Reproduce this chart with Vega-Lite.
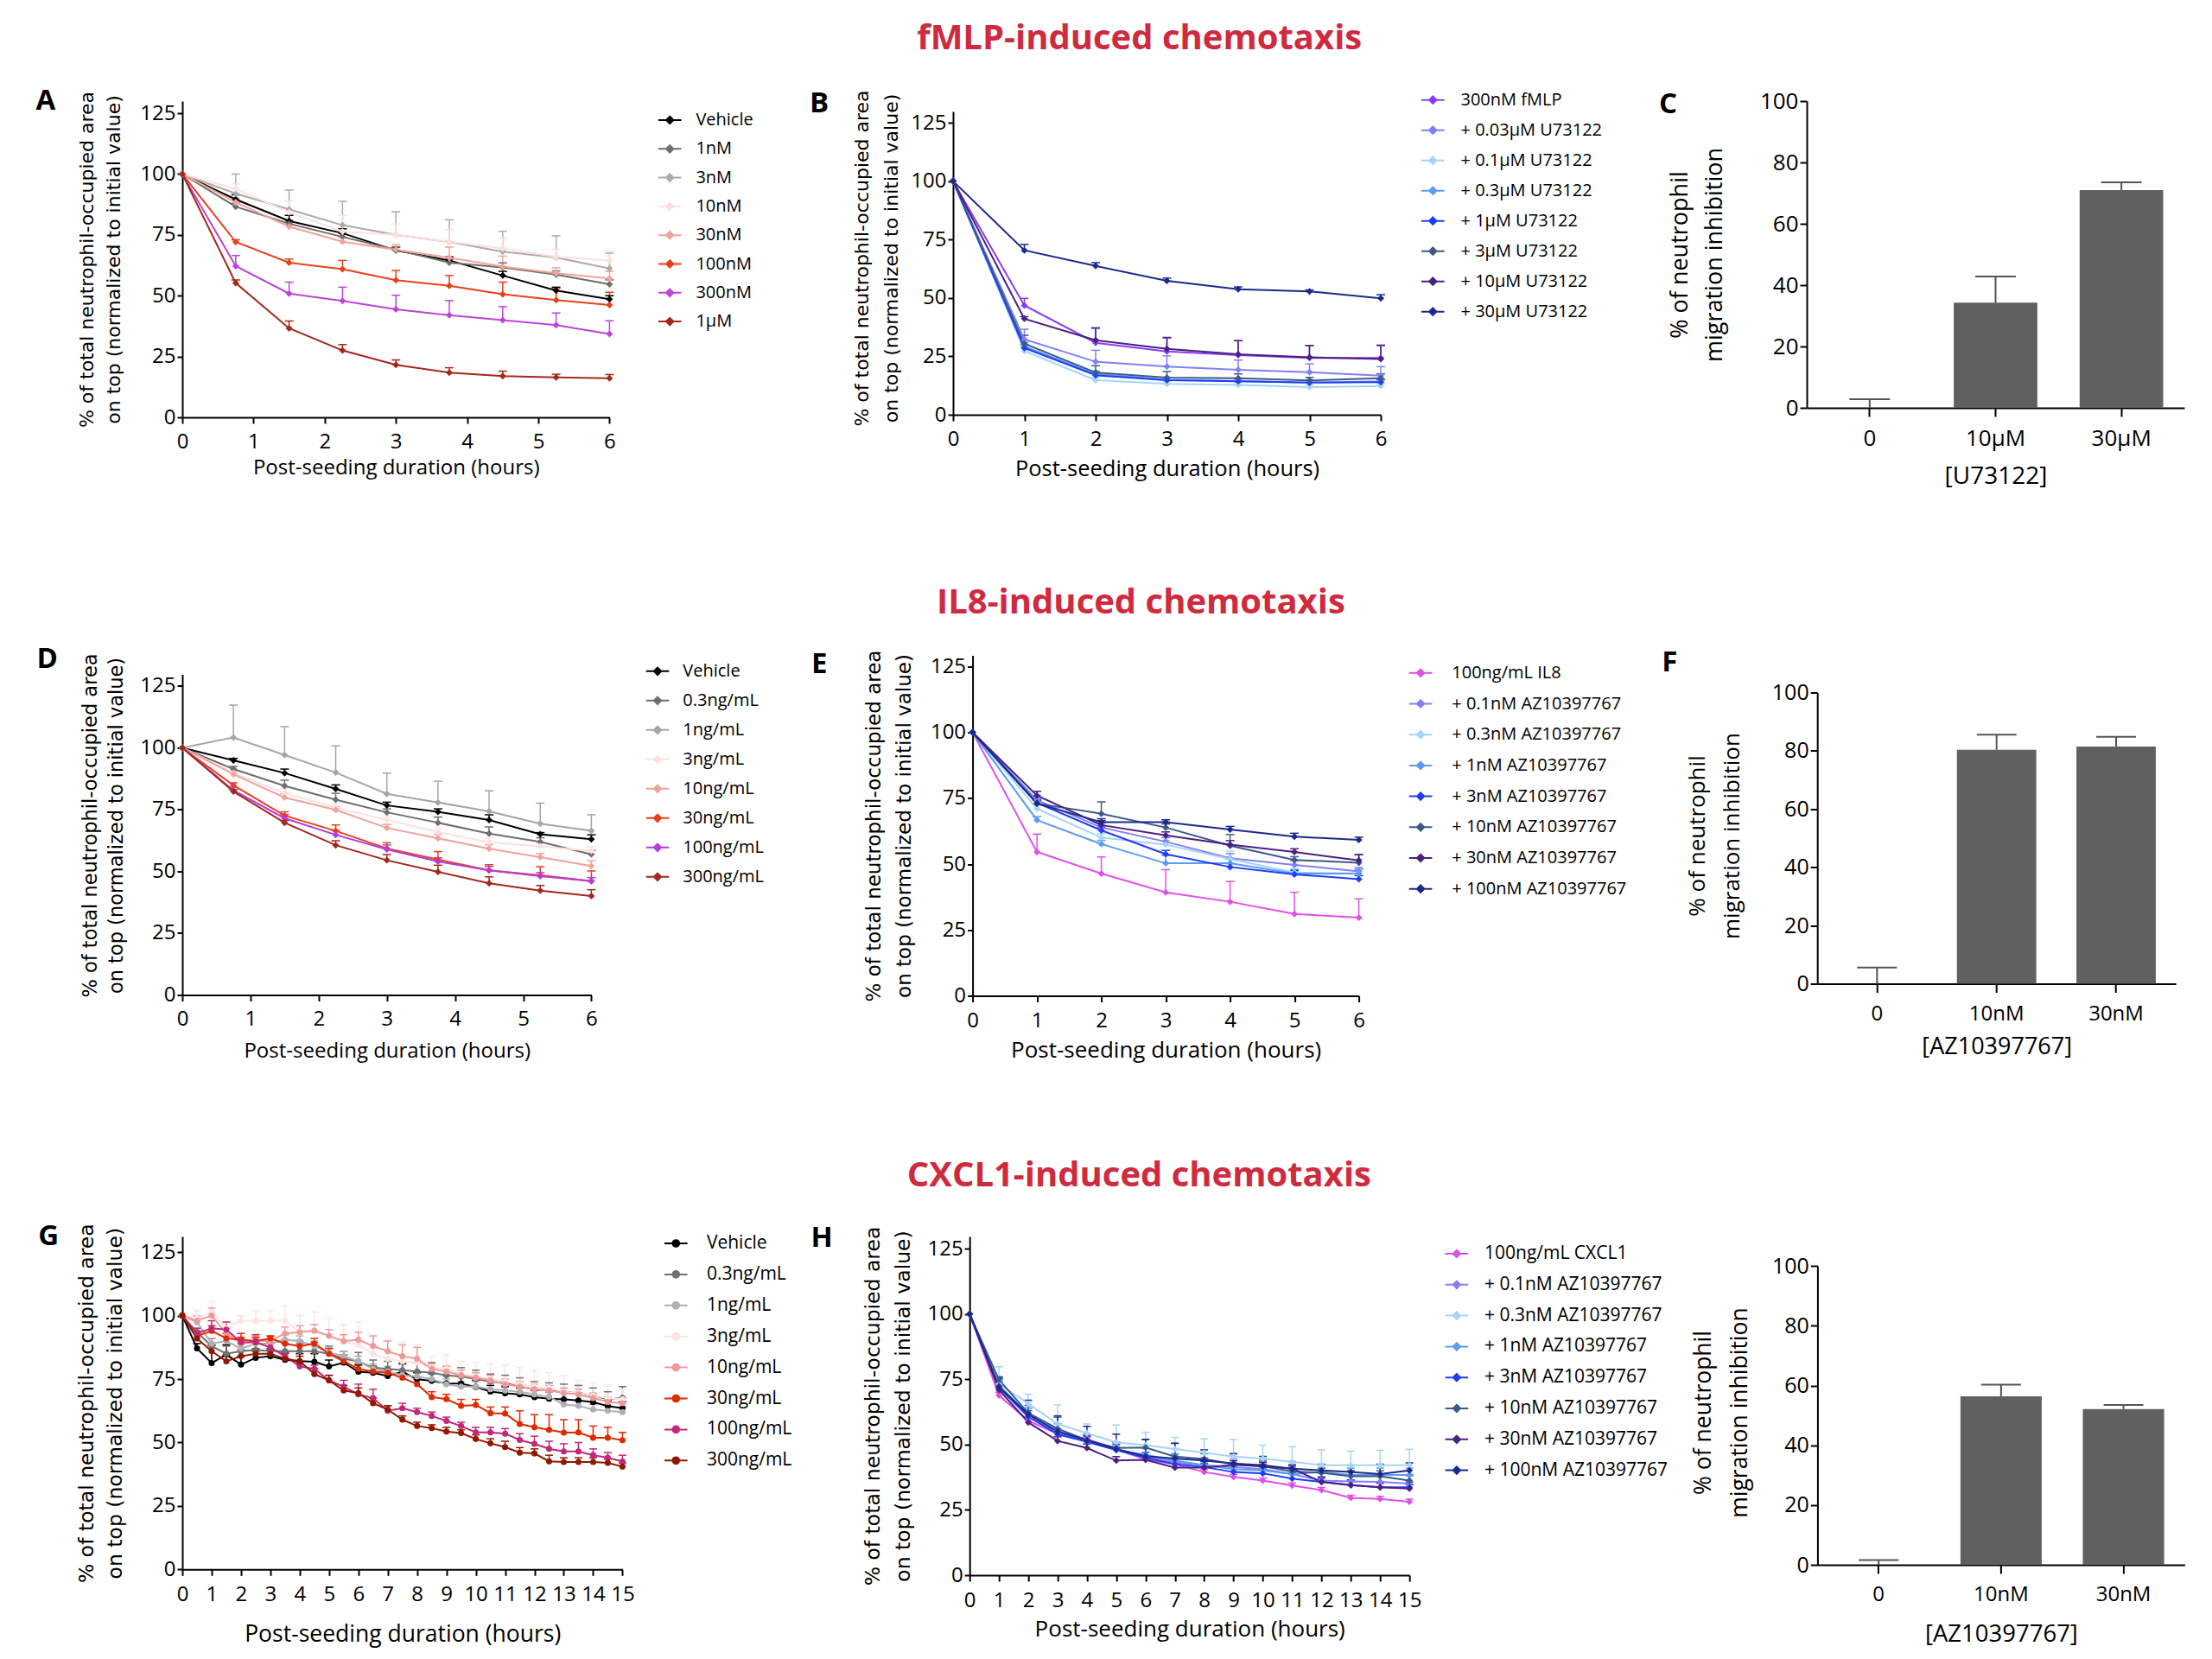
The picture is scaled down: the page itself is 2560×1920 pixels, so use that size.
{
"$schema":"https://vega.github.io/schema/vega-lite/v6.json",
"padding":{"left":41,"top":25,"right":20,"bottom":10},
"background":"white",
"config":{"view":{"stroke":null},"font":"Open Sans",
"axis":{"domainColor":"#000","domainWidth":2,"tickColor":"#000","tickWidth":2,"labelColor":"#000","titleColor":"#000","grid":false,"labelFont":"Open Sans","titleFont":"Open Sans","titleFontWeight":"normal","labelFlush":false,"labelOverlap":false,"labelBound":false},
"legend":{"labelFont":"Open Sans","labelColor":"#000"},
"title":{"font":"Open Sans","fontWeight":"bold","color":"#000"}},
"datasets":{
"dA":[
{"s":"Vehicle","t":0,"y":100,"e":100},{"s":"Vehicle","t":0.75,"y":89.6,"e":91.5},{"s":"Vehicle","t":1.5,"y":80.7,"e":83},{"s":"Vehicle","t":2.25,"y":75.7,"e":77.5},{"s":"Vehicle","t":3,"y":68.6,"e":70},{"s":"Vehicle","t":3.75,"y":64.5,"e":66},{"s":"Vehicle","t":4.5,"y":58.3,"e":60},{"s":"Vehicle","t":5.25,"y":52.1,"e":53.5},{"s":"Vehicle","t":6,"y":48.6,"e":50},
{"s":"1nM","t":0,"y":100,"e":100},{"s":"1nM","t":0.75,"y":86.6,"e":88},{"s":"1nM","t":1.5,"y":79.6,"e":81},{"s":"1nM","t":2.25,"y":74.2,"e":75.5},{"s":"1nM","t":3,"y":68.9,"e":70},{"s":"1nM","t":3.75,"y":63.6,"e":65},{"s":"1nM","t":4.5,"y":61.6,"e":63.5},{"s":"1nM","t":5.25,"y":58.7,"e":60.2},{"s":"1nM","t":6,"y":54.7,"e":56.5},
{"s":"3nM","t":0,"y":100,"e":100},{"s":"3nM","t":0.75,"y":92,"e":100},{"s":"3nM","t":1.5,"y":85.5,"e":93.4},{"s":"3nM","t":2.25,"y":79,"e":88.8},{"s":"3nM","t":3,"y":75,"e":84.5},{"s":"3nM","t":3.75,"y":72.1,"e":81.2},{"s":"3nM","t":4.5,"y":68.1,"e":76.5},{"s":"3nM","t":5.25,"y":65.7,"e":74.6},{"s":"3nM","t":6,"y":61.2,"e":67.5},
{"s":"10nM","t":0,"y":100,"e":100},{"s":"10nM","t":0.75,"y":94,"e":96},{"s":"10nM","t":1.5,"y":84.3,"e":89},{"s":"10nM","t":2.25,"y":76.4,"e":83},{"s":"10nM","t":3,"y":75,"e":79.5},{"s":"10nM","t":3.75,"y":72.2,"e":77.2},{"s":"10nM","t":4.5,"y":69.4,"e":73.6},{"s":"10nM","t":5.25,"y":66,"e":69.1},{"s":"10nM","t":6,"y":64.5,"e":68.3},
{"s":"30nM","t":0,"y":100,"e":100},{"s":"30nM","t":0.75,"y":88.4,"e":90},{"s":"30nM","t":1.5,"y":78.4,"e":80},{"s":"30nM","t":2.25,"y":72.2,"e":74},{"s":"30nM","t":3,"y":68.9,"e":71},{"s":"30nM","t":3.75,"y":65.6,"e":70},{"s":"30nM","t":4.5,"y":62,"e":66.3},{"s":"30nM","t":5.25,"y":59.2,"e":61.5},{"s":"30nM","t":6,"y":57.1,"e":60},
{"s":"100nM","t":0,"y":100,"e":100},{"s":"100nM","t":0.75,"y":72.1,"e":73},{"s":"100nM","t":1.5,"y":63.6,"e":65.1},{"s":"100nM","t":2.25,"y":60.9,"e":64.5},{"s":"100nM","t":3,"y":56.4,"e":60.4},{"s":"100nM","t":3.75,"y":54.1,"e":58.3},{"s":"100nM","t":4.5,"y":50.6,"e":55.6},{"s":"100nM","t":5.25,"y":48.2,"e":53},{"s":"100nM","t":6,"y":46.2,"e":51.4},
{"s":"300nM","t":0,"y":100,"e":100},{"s":"300nM","t":0.75,"y":62.2,"e":66.5},{"s":"300nM","t":1.5,"y":50.9,"e":55.6},{"s":"300nM","t":2.25,"y":47.9,"e":53.5},{"s":"300nM","t":3,"y":44.4,"e":50.2},{"s":"300nM","t":3.75,"y":42,"e":48},{"s":"300nM","t":4.5,"y":40,"e":45.5},{"s":"300nM","t":5.25,"y":37.9,"e":42.9},{"s":"300nM","t":6,"y":34.3,"e":39.7},
{"s":"1µM","t":0,"y":100,"e":100},{"s":"1µM","t":0.75,"y":55.2,"e":56.5},{"s":"1µM","t":1.5,"y":36.6,"e":39.6},{"s":"1µM","t":2.25,"y":27.5,"e":29.9},{"s":"1µM","t":3,"y":21.6,"e":23.6},{"s":"1µM","t":3.75,"y":18.4,"e":20.4},{"s":"1µM","t":4.5,"y":17,"e":19},{"s":"1µM","t":5.25,"y":16.4,"e":17.7},{"s":"1µM","t":6,"y":16.1,"e":17.6}],
"dB":[
{"s":"300nM fMLP","t":0,"y":100,"e":100},{"s":"300nM fMLP","t":1,"y":46.8,"e":49.8},{"s":"300nM fMLP","t":2,"y":30.8,"e":37},{"s":"300nM fMLP","t":3,"y":27.1,"e":32.9},{"s":"300nM fMLP","t":4,"y":25.5,"e":31.7},{"s":"300nM fMLP","t":5,"y":24.3,"e":29.6},{"s":"300nM fMLP","t":6,"y":24.3,"e":29.6},
{"s":"+ 0.03µM U73122","t":0,"y":100,"e":100},{"s":"+ 0.03µM U73122","t":1,"y":32.3,"e":36.6},{"s":"+ 0.03µM U73122","t":2,"y":22.7,"e":27.6},{"s":"+ 0.03µM U73122","t":3,"y":20.6,"e":25.2},{"s":"+ 0.03µM U73122","t":4,"y":19.2,"e":23.4},{"s":"+ 0.03µM U73122","t":5,"y":18.2,"e":21.8},{"s":"+ 0.03µM U73122","t":6,"y":16.7,"e":20.6},
{"s":"+ 0.1µM U73122","t":0,"y":100,"e":100},{"s":"+ 0.1µM U73122","t":1,"y":27.3,"e":29},{"s":"+ 0.1µM U73122","t":2,"y":14.8,"e":16},{"s":"+ 0.1µM U73122","t":3,"y":13.2,"e":14.2},{"s":"+ 0.1µM U73122","t":4,"y":12.8,"e":13.8},{"s":"+ 0.1µM U73122","t":5,"y":11.8,"e":12.8},{"s":"+ 0.1µM U73122","t":6,"y":12.3,"e":13.3},
{"s":"+ 0.3µM U73122","t":0,"y":100,"e":100},{"s":"+ 0.3µM U73122","t":1,"y":29.2,"e":31},{"s":"+ 0.3µM U73122","t":2,"y":17.5,"e":18.7},{"s":"+ 0.3µM U73122","t":3,"y":15,"e":16},{"s":"+ 0.3µM U73122","t":4,"y":14.4,"e":15.4},{"s":"+ 0.3µM U73122","t":5,"y":13.8,"e":14.8},{"s":"+ 0.3µM U73122","t":6,"y":14.2,"e":15.2},
{"s":"+ 1µM U73122","t":0,"y":100,"e":100},{"s":"+ 1µM U73122","t":1,"y":28.6,"e":30},{"s":"+ 1µM U73122","t":2,"y":16.9,"e":18},{"s":"+ 1µM U73122","t":3,"y":14.8,"e":15.8},{"s":"+ 1µM U73122","t":4,"y":14.3,"e":15.3},{"s":"+ 1µM U73122","t":5,"y":13.8,"e":14.8},{"s":"+ 1µM U73122","t":6,"y":14,"e":15},
{"s":"+ 3µM U73122","t":0,"y":100,"e":100},{"s":"+ 3µM U73122","t":1,"y":30.4,"e":34},{"s":"+ 3µM U73122","t":2,"y":18.1,"e":21},{"s":"+ 3µM U73122","t":3,"y":15.9,"e":18.5},{"s":"+ 3µM U73122","t":4,"y":15.6,"e":17.5},{"s":"+ 3µM U73122","t":5,"y":14.7,"e":16},{"s":"+ 3µM U73122","t":6,"y":15.6,"e":17.5},
{"s":"+ 10µM U73122","t":0,"y":100,"e":100},{"s":"+ 10µM U73122","t":1,"y":41.1,"e":42},{"s":"+ 10µM U73122","t":2,"y":31.9,"e":37.2},{"s":"+ 10µM U73122","t":3,"y":28.2,"e":33.1},{"s":"+ 10µM U73122","t":4,"y":25.9,"e":31.7},{"s":"+ 10µM U73122","t":5,"y":24.6,"e":29.6},{"s":"+ 10µM U73122","t":6,"y":23.9,"e":29.8},
{"s":"+ 30µM U73122","t":0,"y":100,"e":100},{"s":"+ 30µM U73122","t":1,"y":70.4,"e":72.9},{"s":"+ 30µM U73122","t":2,"y":63.7,"e":65.1},{"s":"+ 30µM U73122","t":3,"y":57.3,"e":58.5},{"s":"+ 30µM U73122","t":4,"y":53.7,"e":54.7},{"s":"+ 30µM U73122","t":5,"y":52.8,"e":53.4},{"s":"+ 30µM U73122","t":6,"y":49.8,"e":51.4}],
"dC":[{"c":"0","v":0,"e":2.8},{"c":"10µM","v":34.3,"e":42.8},{"c":"30µM","v":71,"e":73.5}],
"dD":[
{"s":"Vehicle","t":0,"y":100,"e":100},{"s":"Vehicle","t":0.75,"y":94.9,"e":95.7},{"s":"Vehicle","t":1.5,"y":89.8,"e":91.4},{"s":"Vehicle","t":2.25,"y":83.4,"e":85},{"s":"Vehicle","t":3,"y":76.7,"e":78},{"s":"Vehicle","t":3.75,"y":74.1,"e":75.3},{"s":"Vehicle","t":4.5,"y":70.8,"e":72.9},{"s":"Vehicle","t":5.25,"y":65,"e":65.7},{"s":"Vehicle","t":6,"y":63,"e":64.8},
{"s":"0.3ng/mL","t":0,"y":100,"e":100},{"s":"0.3ng/mL","t":0.75,"y":91.4,"e":92.5},{"s":"0.3ng/mL","t":1.5,"y":84.6,"e":86.9},{"s":"0.3ng/mL","t":2.25,"y":79,"e":81.6},{"s":"0.3ng/mL","t":3,"y":73.9,"e":75.3},{"s":"0.3ng/mL","t":3.75,"y":69.7,"e":72},{"s":"0.3ng/mL","t":4.5,"y":65.3,"e":68},{"s":"0.3ng/mL","t":5.25,"y":62,"e":63.6},{"s":"0.3ng/mL","t":6,"y":56.9,"e":58.5},
{"s":"1ng/mL","t":0,"y":100,"e":100},{"s":"1ng/mL","t":0.75,"y":104.2,"e":117.3},{"s":"1ng/mL","t":1.5,"y":97.1,"e":108.6},{"s":"1ng/mL","t":2.25,"y":90,"e":100.8},{"s":"1ng/mL","t":3,"y":81.4,"e":89.8},{"s":"1ng/mL","t":3.75,"y":77.9,"e":86.5},{"s":"1ng/mL","t":4.5,"y":74.3,"e":82.6},{"s":"1ng/mL","t":5.25,"y":69.3,"e":77.6},{"s":"1ng/mL","t":6,"y":66.4,"e":72.9},
{"s":"3ng/mL","t":0,"y":100,"e":100},{"s":"3ng/mL","t":0.75,"y":89.8,"e":91.5},{"s":"3ng/mL","t":1.5,"y":81.7,"e":83.5},{"s":"3ng/mL","t":2.25,"y":75.8,"e":77.5},{"s":"3ng/mL","t":3,"y":70.9,"e":72.5},{"s":"3ng/mL","t":3.75,"y":65.9,"e":67.5},{"s":"3ng/mL","t":4.5,"y":61.8,"e":63.5},{"s":"3ng/mL","t":5.25,"y":60.1,"e":61.5},{"s":"3ng/mL","t":6,"y":58.3,"e":60},
{"s":"10ng/mL","t":0,"y":100,"e":100},{"s":"10ng/mL","t":0.75,"y":89.3,"e":90.5},{"s":"10ng/mL","t":1.5,"y":79.9,"e":81.5},{"s":"10ng/mL","t":2.25,"y":74.9,"e":76.2},{"s":"10ng/mL","t":3,"y":67.6,"e":69},{"s":"10ng/mL","t":3.75,"y":63.4,"e":65},{"s":"10ng/mL","t":4.5,"y":59.2,"e":60.8},{"s":"10ng/mL","t":5.25,"y":55.8,"e":57.2},{"s":"10ng/mL","t":6,"y":52.2,"e":54.3},
{"s":"30ng/mL","t":0,"y":100,"e":100},{"s":"30ng/mL","t":0.75,"y":84.8,"e":85.8},{"s":"30ng/mL","t":1.5,"y":72.6,"e":74.1},{"s":"30ng/mL","t":2.25,"y":66.4,"e":68.8},{"s":"30ng/mL","t":3,"y":59.3,"e":61.6},{"s":"30ng/mL","t":3.75,"y":54.8,"e":58},{"s":"30ng/mL","t":4.5,"y":50.4,"e":52.7},{"s":"30ng/mL","t":5.25,"y":48.4,"e":51.9},{"s":"30ng/mL","t":6,"y":46.1,"e":50.2},
{"s":"100ng/mL","t":0,"y":100,"e":100},{"s":"100ng/mL","t":0.75,"y":82.8,"e":84},{"s":"100ng/mL","t":1.5,"y":71.5,"e":73},{"s":"100ng/mL","t":2.25,"y":64.8,"e":66.5},{"s":"100ng/mL","t":3,"y":58.9,"e":60.7},{"s":"100ng/mL","t":3.75,"y":54,"e":55.5},{"s":"100ng/mL","t":4.5,"y":50.4,"e":52},{"s":"100ng/mL","t":5.25,"y":48.1,"e":49.5},{"s":"100ng/mL","t":6,"y":46.1,"e":47.5},
{"s":"300ng/mL","t":0,"y":100,"e":100},{"s":"300ng/mL","t":0.75,"y":82.3,"e":83},{"s":"300ng/mL","t":1.5,"y":69.7,"e":70.6},{"s":"300ng/mL","t":2.25,"y":60.6,"e":62.4},{"s":"300ng/mL","t":3,"y":54.5,"e":56.8},{"s":"300ng/mL","t":3.75,"y":49.8,"e":52.5},{"s":"300ng/mL","t":4.5,"y":45.2,"e":47.8},{"s":"300ng/mL","t":5.25,"y":42.2,"e":44.3},{"s":"300ng/mL","t":6,"y":40,"e":42.6}],
"dE":[
{"s":"100ng/mL IL8","t":0,"y":100,"e":100},{"s":"100ng/mL IL8","t":1,"y":54.6,"e":61.4},{"s":"100ng/mL IL8","t":2,"y":46.4,"e":52.7},{"s":"100ng/mL IL8","t":3,"y":39.3,"e":47.9},{"s":"100ng/mL IL8","t":4,"y":35.7,"e":43.4},{"s":"100ng/mL IL8","t":5,"y":31.1,"e":39.3},{"s":"100ng/mL IL8","t":6,"y":29.7,"e":36.8},
{"s":"+ 0.1nM AZ10397767","t":0,"y":100,"e":100},{"s":"+ 0.1nM AZ10397767","t":1,"y":74.3,"e":76},{"s":"+ 0.1nM AZ10397767","t":2,"y":63.9,"e":65.5},{"s":"+ 0.1nM AZ10397767","t":3,"y":58.5,"e":60},{"s":"+ 0.1nM AZ10397767","t":4,"y":52.2,"e":54},{"s":"+ 0.1nM AZ10397767","t":5,"y":49.7,"e":51.2},{"s":"+ 0.1nM AZ10397767","t":6,"y":47.2,"e":48.7},
{"s":"+ 0.3nM AZ10397767","t":0,"y":100,"e":100},{"s":"+ 0.3nM AZ10397767","t":1,"y":71,"e":72.5},{"s":"+ 0.3nM AZ10397767","t":2,"y":60.1,"e":61.5},{"s":"+ 0.3nM AZ10397767","t":3,"y":57.4,"e":59},{"s":"+ 0.3nM AZ10397767","t":4,"y":51.9,"e":54.9},{"s":"+ 0.3nM AZ10397767","t":5,"y":46.8,"e":48.3},{"s":"+ 0.3nM AZ10397767","t":6,"y":46.4,"e":48},
{"s":"+ 1nM AZ10397767","t":0,"y":100,"e":100},{"s":"+ 1nM AZ10397767","t":1,"y":66.7,"e":68},{"s":"+ 1nM AZ10397767","t":2,"y":57.6,"e":59},{"s":"+ 1nM AZ10397767","t":3,"y":50.3,"e":53.3},{"s":"+ 1nM AZ10397767","t":4,"y":50.3,"e":52},{"s":"+ 1nM AZ10397767","t":5,"y":46.4,"e":47.8},{"s":"+ 1nM AZ10397767","t":6,"y":46.4,"e":48},
{"s":"+ 3nM AZ10397767","t":0,"y":100,"e":100},{"s":"+ 3nM AZ10397767","t":1,"y":73.2,"e":74.5},{"s":"+ 3nM AZ10397767","t":2,"y":62.8,"e":64},{"s":"+ 3nM AZ10397767","t":3,"y":53.8,"e":55.2},{"s":"+ 3nM AZ10397767","t":4,"y":48.9,"e":50.2},{"s":"+ 3nM AZ10397767","t":5,"y":46.1,"e":47.5},{"s":"+ 3nM AZ10397767","t":6,"y":44.3,"e":45.6},
{"s":"+ 10nM AZ10397767","t":0,"y":100,"e":100},{"s":"+ 10nM AZ10397767","t":1,"y":73,"e":74.5},{"s":"+ 10nM AZ10397767","t":2,"y":69.1,"e":73.6},{"s":"+ 10nM AZ10397767","t":3,"y":63.9,"e":65.2},{"s":"+ 10nM AZ10397767","t":4,"y":57,"e":61.2},{"s":"+ 10nM AZ10397767","t":5,"y":51.6,"e":52.8},{"s":"+ 10nM AZ10397767","t":6,"y":50.5,"e":53.6},
{"s":"+ 30nM AZ10397767","t":0,"y":100,"e":100},{"s":"+ 30nM AZ10397767","t":1,"y":76,"e":77.6},{"s":"+ 30nM AZ10397767","t":2,"y":64.8,"e":66.5},{"s":"+ 30nM AZ10397767","t":3,"y":60.9,"e":62.2},{"s":"+ 30nM AZ10397767","t":4,"y":57.4,"e":58.9},{"s":"+ 30nM AZ10397767","t":5,"y":54.6,"e":55.8},{"s":"+ 30nM AZ10397767","t":6,"y":51.4,"e":53.6},
{"s":"+ 100nM AZ10397767","t":0,"y":100,"e":100},{"s":"+ 100nM AZ10397767","t":1,"y":73,"e":74.2},{"s":"+ 100nM AZ10397767","t":2,"y":65.9,"e":67.2},{"s":"+ 100nM AZ10397767","t":3,"y":65.9,"e":66.8},{"s":"+ 100nM AZ10397767","t":4,"y":63.1,"e":64.3},{"s":"+ 100nM AZ10397767","t":5,"y":60.4,"e":61.7},{"s":"+ 100nM AZ10397767","t":6,"y":59.2,"e":60.2}],
"dF":[{"c":"0","v":0,"e":5.6},{"c":"10nM","v":80.4,"e":85.6},{"c":"30nM","v":81.5,"e":84.8}],
"dG":[
{"s":"Vehicle","t":0,"y":100,"e":100},{"s":"Vehicle","t":0.5,"y":87.1,"e":89},{"s":"Vehicle","t":1,"y":81.3,"e":88.3},{"s":"Vehicle","t":1.5,"y":84.7,"e":88.5},{"s":"Vehicle","t":2,"y":80.7,"e":84},{"s":"Vehicle","t":2.5,"y":83.4,"e":86},{"s":"Vehicle","t":3,"y":84,"e":86.5},{"s":"Vehicle","t":3.5,"y":82.6,"e":85.5},{"s":"Vehicle","t":4,"y":82.1,"e":85},{"s":"Vehicle","t":4.5,"y":81.8,"e":85},{"s":"Vehicle","t":5,"y":80,"e":82.5},{"s":"Vehicle","t":5.5,"y":81.5,"e":83.5},{"s":"Vehicle","t":6,"y":77.9,"e":80.5},{"s":"Vehicle","t":6.5,"y":77.5,"e":80},{"s":"Vehicle","t":7,"y":76.2,"e":78.5},{"s":"Vehicle","t":7.5,"y":77.9,"e":81},{"s":"Vehicle","t":8,"y":74.9,"e":77.5},{"s":"Vehicle","t":8.5,"y":74.3,"e":77},{"s":"Vehicle","t":9,"y":73.3,"e":76.5},{"s":"Vehicle","t":9.5,"y":73.2,"e":76},{"s":"Vehicle","t":10,"y":71.9,"e":74.5},{"s":"Vehicle","t":10.5,"y":70.1,"e":72.5},{"s":"Vehicle","t":11,"y":69.4,"e":72},{"s":"Vehicle","t":11.5,"y":69,"e":71.5},{"s":"Vehicle","t":12,"y":67.9,"e":70.5},{"s":"Vehicle","t":12.5,"y":67.3,"e":70},{"s":"Vehicle","t":13,"y":67,"e":69.8},{"s":"Vehicle","t":13.5,"y":66.6,"e":69.5},{"s":"Vehicle","t":14,"y":65.9,"e":68.5},{"s":"Vehicle","t":14.5,"y":64.4,"e":66.5},{"s":"Vehicle","t":15,"y":63.5,"e":66},
{"s":"0.3ng/mL","t":0,"y":100,"e":100},{"s":"0.3ng/mL","t":0.5,"y":93.5,"e":95},{"s":"0.3ng/mL","t":1,"y":88,"e":91},{"s":"0.3ng/mL","t":1.5,"y":85,"e":88},{"s":"0.3ng/mL","t":2,"y":86,"e":89},{"s":"0.3ng/mL","t":2.5,"y":86.5,"e":89.5},{"s":"0.3ng/mL","t":3,"y":86,"e":89},{"s":"0.3ng/mL","t":3.5,"y":86,"e":89},{"s":"0.3ng/mL","t":4,"y":86,"e":89},{"s":"0.3ng/mL","t":4.5,"y":86,"e":89.5},{"s":"0.3ng/mL","t":5,"y":85,"e":88},{"s":"0.3ng/mL","t":5.5,"y":83,"e":86},{"s":"0.3ng/mL","t":6,"y":82,"e":85.5},{"s":"0.3ng/mL","t":6.5,"y":79.5,"e":82.5},{"s":"0.3ng/mL","t":7,"y":79,"e":82},{"s":"0.3ng/mL","t":7.5,"y":78.5,"e":81.5},{"s":"0.3ng/mL","t":8,"y":78,"e":81.5},{"s":"0.3ng/mL","t":8.5,"y":77.5,"e":81.5},{"s":"0.3ng/mL","t":9,"y":76.5,"e":80},{"s":"0.3ng/mL","t":9.5,"y":76,"e":79.5},{"s":"0.3ng/mL","t":10,"y":75,"e":78.5},{"s":"0.3ng/mL","t":10.5,"y":74,"e":77},{"s":"0.3ng/mL","t":11,"y":73.5,"e":76.5},{"s":"0.3ng/mL","t":11.5,"y":72,"e":75.5},{"s":"0.3ng/mL","t":12,"y":71,"e":74},{"s":"0.3ng/mL","t":12.5,"y":70.5,"e":73.5},{"s":"0.3ng/mL","t":13,"y":70,"e":73},{"s":"0.3ng/mL","t":13.5,"y":69.5,"e":72.5},{"s":"0.3ng/mL","t":14,"y":68.5,"e":71.5},{"s":"0.3ng/mL","t":14.5,"y":67,"e":70},{"s":"0.3ng/mL","t":15,"y":67.6,"e":72},
{"s":"1ng/mL","t":0,"y":100,"e":100},{"s":"1ng/mL","t":0.5,"y":97.5,"e":99.5},{"s":"1ng/mL","t":1,"y":89,"e":91},{"s":"1ng/mL","t":1.5,"y":90,"e":92},{"s":"1ng/mL","t":2,"y":87,"e":89},{"s":"1ng/mL","t":2.5,"y":89,"e":91},{"s":"1ng/mL","t":3,"y":89,"e":91},{"s":"1ng/mL","t":3.5,"y":90.5,"e":92.5},{"s":"1ng/mL","t":4,"y":90,"e":92},{"s":"1ng/mL","t":4.5,"y":88,"e":90},{"s":"1ng/mL","t":5,"y":85.5,"e":87.5},{"s":"1ng/mL","t":5.5,"y":84,"e":86},{"s":"1ng/mL","t":6,"y":82,"e":84},{"s":"1ng/mL","t":6.5,"y":79,"e":81},{"s":"1ng/mL","t":7,"y":78,"e":80},{"s":"1ng/mL","t":7.5,"y":76.5,"e":78.5},{"s":"1ng/mL","t":8,"y":76,"e":78},{"s":"1ng/mL","t":8.5,"y":75,"e":77},{"s":"1ng/mL","t":9,"y":73,"e":75},{"s":"1ng/mL","t":9.5,"y":72,"e":74},{"s":"1ng/mL","t":10,"y":72,"e":74},{"s":"1ng/mL","t":10.5,"y":71,"e":73},{"s":"1ng/mL","t":11,"y":70.5,"e":72.5},{"s":"1ng/mL","t":11.5,"y":70,"e":72},{"s":"1ng/mL","t":12,"y":69,"e":71},{"s":"1ng/mL","t":12.5,"y":68,"e":70},{"s":"1ng/mL","t":13,"y":65,"e":67},{"s":"1ng/mL","t":13.5,"y":64.5,"e":66.5},{"s":"1ng/mL","t":14,"y":63,"e":65},{"s":"1ng/mL","t":14.5,"y":62.5,"e":64.5},{"s":"1ng/mL","t":15,"y":62,"e":64},
{"s":"3ng/mL","t":0,"y":100,"e":100},{"s":"3ng/mL","t":0.5,"y":99,"e":102},{"s":"3ng/mL","t":1,"y":101.5,"e":105.5},{"s":"3ng/mL","t":1.5,"y":95,"e":97},{"s":"3ng/mL","t":2,"y":98,"e":100},{"s":"3ng/mL","t":2.5,"y":98,"e":102},{"s":"3ng/mL","t":3,"y":98,"e":102},{"s":"3ng/mL","t":3.5,"y":98,"e":104},{"s":"3ng/mL","t":4,"y":93.5,"e":100},{"s":"3ng/mL","t":4.5,"y":94.5,"e":101.5},{"s":"3ng/mL","t":5,"y":92,"e":99},{"s":"3ng/mL","t":5.5,"y":89.5,"e":96.5},{"s":"3ng/mL","t":6,"y":88.5,"e":97.5},{"s":"3ng/mL","t":6.5,"y":85,"e":92},{"s":"3ng/mL","t":7,"y":83,"e":90.5},{"s":"3ng/mL","t":7.5,"y":82,"e":89.5},{"s":"3ng/mL","t":8,"y":81.5,"e":88.5},{"s":"3ng/mL","t":8.5,"y":79.5,"e":84},{"s":"3ng/mL","t":9,"y":79,"e":84.5},{"s":"3ng/mL","t":9.5,"y":77,"e":82},{"s":"3ng/mL","t":10,"y":76,"e":81.5},{"s":"3ng/mL","t":10.5,"y":75,"e":81},{"s":"3ng/mL","t":11,"y":74,"e":80.5},{"s":"3ng/mL","t":11.5,"y":73,"e":79.5},{"s":"3ng/mL","t":12,"y":72,"e":78.5},{"s":"3ng/mL","t":12.5,"y":71.5,"e":77.5},{"s":"3ng/mL","t":13,"y":70,"e":76.5},{"s":"3ng/mL","t":13.5,"y":69.5,"e":74.5},{"s":"3ng/mL","t":14,"y":68.5,"e":73.5},{"s":"3ng/mL","t":14.5,"y":67.5,"e":72.5},{"s":"3ng/mL","t":15,"y":67,"e":71},
{"s":"10ng/mL","t":0,"y":100,"e":100},{"s":"10ng/mL","t":0.5,"y":98,"e":100},{"s":"10ng/mL","t":1,"y":100,"e":103},{"s":"10ng/mL","t":1.5,"y":93,"e":95},{"s":"10ng/mL","t":2,"y":89,"e":91},{"s":"10ng/mL","t":2.5,"y":90,"e":92},{"s":"10ng/mL","t":3,"y":90,"e":92},{"s":"10ng/mL","t":3.5,"y":93,"e":95.5},{"s":"10ng/mL","t":4,"y":93.5,"e":96},{"s":"10ng/mL","t":4.5,"y":94,"e":96.5},{"s":"10ng/mL","t":5,"y":92,"e":94.5},{"s":"10ng/mL","t":5.5,"y":90,"e":92.5},{"s":"10ng/mL","t":6,"y":90.5,"e":93.5},{"s":"10ng/mL","t":6.5,"y":88,"e":92},{"s":"10ng/mL","t":7,"y":86,"e":90},{"s":"10ng/mL","t":7.5,"y":84,"e":88.5},{"s":"10ng/mL","t":8,"y":83,"e":87.5},{"s":"10ng/mL","t":8.5,"y":79,"e":81},{"s":"10ng/mL","t":9,"y":78,"e":80},{"s":"10ng/mL","t":9.5,"y":76.5,"e":78.5},{"s":"10ng/mL","t":10,"y":75.5,"e":77.5},{"s":"10ng/mL","t":10.5,"y":74.5,"e":76.5},{"s":"10ng/mL","t":11,"y":73,"e":75},{"s":"10ng/mL","t":11.5,"y":72,"e":74},{"s":"10ng/mL","t":12,"y":71,"e":73},{"s":"10ng/mL","t":12.5,"y":70.5,"e":72.5},{"s":"10ng/mL","t":13,"y":69.5,"e":71.5},{"s":"10ng/mL","t":13.5,"y":69,"e":71},{"s":"10ng/mL","t":14,"y":67.5,"e":69.5},{"s":"10ng/mL","t":14.5,"y":66,"e":68},{"s":"10ng/mL","t":15,"y":65.5,"e":67.5},
{"s":"30ng/mL","t":0,"y":100,"e":100},{"s":"30ng/mL","t":0.5,"y":92,"e":94},{"s":"30ng/mL","t":1,"y":94,"e":96},{"s":"30ng/mL","t":1.5,"y":91,"e":93},{"s":"30ng/mL","t":2,"y":90.5,"e":93},{"s":"30ng/mL","t":2.5,"y":90,"e":92.5},{"s":"30ng/mL","t":3,"y":91,"e":92},{"s":"30ng/mL","t":3.5,"y":89,"e":90.5},{"s":"30ng/mL","t":4,"y":88,"e":90},{"s":"30ng/mL","t":4.5,"y":89,"e":91},{"s":"30ng/mL","t":5,"y":85,"e":87},{"s":"30ng/mL","t":5.5,"y":82,"e":84.5},{"s":"30ng/mL","t":6,"y":79,"e":81},{"s":"30ng/mL","t":6.5,"y":78,"e":80},{"s":"30ng/mL","t":7,"y":77.5,"e":79},{"s":"30ng/mL","t":7.5,"y":75.5,"e":77.5},{"s":"30ng/mL","t":8,"y":73,"e":75},{"s":"30ng/mL","t":8.5,"y":67.9,"e":70},{"s":"30ng/mL","t":9,"y":67.1,"e":69},{"s":"30ng/mL","t":9.5,"y":64.5,"e":67},{"s":"30ng/mL","t":10,"y":64.8,"e":67},{"s":"30ng/mL","t":10.5,"y":61.6,"e":64},{"s":"30ng/mL","t":11,"y":61.4,"e":64},{"s":"30ng/mL","t":11.5,"y":57.3,"e":62.5},{"s":"30ng/mL","t":12,"y":56,"e":61},{"s":"30ng/mL","t":12.5,"y":55,"e":61},{"s":"30ng/mL","t":13,"y":53.9,"e":59},{"s":"30ng/mL","t":13.5,"y":54,"e":59},{"s":"30ng/mL","t":14,"y":51.9,"e":56.5},{"s":"30ng/mL","t":14.5,"y":51.9,"e":56},{"s":"30ng/mL","t":15,"y":50.9,"e":54},
{"s":"100ng/mL","t":0,"y":100,"e":100},{"s":"100ng/mL","t":0.5,"y":93,"e":95},{"s":"100ng/mL","t":1,"y":95,"e":98},{"s":"100ng/mL","t":1.5,"y":94.5,"e":97.5},{"s":"100ng/mL","t":2,"y":89.5,"e":91.5},{"s":"100ng/mL","t":2.5,"y":89.5,"e":91.5},{"s":"100ng/mL","t":3,"y":87.5,"e":89.5},{"s":"100ng/mL","t":3.5,"y":84,"e":85.5},{"s":"100ng/mL","t":4,"y":80,"e":81.5},{"s":"100ng/mL","t":4.5,"y":79,"e":80.5},{"s":"100ng/mL","t":5,"y":74.5,"e":76.5},{"s":"100ng/mL","t":5.5,"y":72,"e":74.5},{"s":"100ng/mL","t":6,"y":69,"e":73},{"s":"100ng/mL","t":6.5,"y":67.5,"e":71},{"s":"100ng/mL","t":7,"y":62.5,"e":64.5},{"s":"100ng/mL","t":7.5,"y":63.5,"e":65.5},{"s":"100ng/mL","t":8,"y":62,"e":63.5},{"s":"100ng/mL","t":8.5,"y":60.5,"e":62},{"s":"100ng/mL","t":9,"y":58.5,"e":60},{"s":"100ng/mL","t":9.5,"y":56.5,"e":58},{"s":"100ng/mL","t":10,"y":54,"e":56},{"s":"100ng/mL","t":10.5,"y":54,"e":56},{"s":"100ng/mL","t":11,"y":53.5,"e":55.5},{"s":"100ng/mL","t":11.5,"y":51,"e":53.5},{"s":"100ng/mL","t":12,"y":49.5,"e":52.5},{"s":"100ng/mL","t":12.5,"y":47.5,"e":50.5},{"s":"100ng/mL","t":13,"y":46.5,"e":49.5},{"s":"100ng/mL","t":13.5,"y":46.5,"e":50},{"s":"100ng/mL","t":14,"y":45,"e":47.5},{"s":"100ng/mL","t":14.5,"y":44,"e":46},{"s":"100ng/mL","t":15,"y":42.5,"e":45},
{"s":"300ng/mL","t":0,"y":100,"e":100},{"s":"300ng/mL","t":0.5,"y":91,"e":93},{"s":"300ng/mL","t":1,"y":86,"e":88.5},{"s":"300ng/mL","t":1.5,"y":82,"e":84.5},{"s":"300ng/mL","t":2,"y":84,"e":86.5},{"s":"300ng/mL","t":2.5,"y":85,"e":87},{"s":"300ng/mL","t":3,"y":85,"e":87},{"s":"300ng/mL","t":3.5,"y":83,"e":85},{"s":"300ng/mL","t":4,"y":82,"e":84},{"s":"300ng/mL","t":4.5,"y":77,"e":79},{"s":"300ng/mL","t":5,"y":74.5,"e":76.5},{"s":"300ng/mL","t":5.5,"y":70.5,"e":72.5},{"s":"300ng/mL","t":6,"y":69.5,"e":71.5},{"s":"300ng/mL","t":6.5,"y":65.5,"e":67.5},{"s":"300ng/mL","t":7,"y":63,"e":64.5},{"s":"300ng/mL","t":7.5,"y":59,"e":60.5},{"s":"300ng/mL","t":8,"y":56.5,"e":58},{"s":"300ng/mL","t":8.5,"y":55.7,"e":57},{"s":"300ng/mL","t":9,"y":54.3,"e":56},{"s":"300ng/mL","t":9.5,"y":53.7,"e":55},{"s":"300ng/mL","t":10,"y":51.4,"e":53},{"s":"300ng/mL","t":10.5,"y":49.7,"e":51.5},{"s":"300ng/mL","t":11,"y":48.2,"e":50.5},{"s":"300ng/mL","t":11.5,"y":46,"e":48},{"s":"300ng/mL","t":12,"y":45.7,"e":47.5},{"s":"300ng/mL","t":12.5,"y":42.6,"e":45},{"s":"300ng/mL","t":13,"y":42.3,"e":44},{"s":"300ng/mL","t":13.5,"y":42.3,"e":44},{"s":"300ng/mL","t":14,"y":42.3,"e":44},{"s":"300ng/mL","t":14.5,"y":42,"e":43.5},{"s":"300ng/mL","t":15,"y":40.5,"e":42}],
"dH":[
{"s":"100ng/mL CXCL1","t":0,"y":100,"e":100},{"s":"100ng/mL CXCL1","t":1,"y":68.8,"e":70},{"s":"100ng/mL CXCL1","t":2,"y":59.2,"e":60.5},{"s":"100ng/mL CXCL1","t":3,"y":54.1,"e":55.5},{"s":"100ng/mL CXCL1","t":4,"y":52.2,"e":53.5},{"s":"100ng/mL CXCL1","t":5,"y":48.1,"e":49.2},{"s":"100ng/mL CXCL1","t":6,"y":44.3,"e":45.5},{"s":"100ng/mL CXCL1","t":7,"y":42.5,"e":43.5},{"s":"100ng/mL CXCL1","t":8,"y":39.5,"e":40.5},{"s":"100ng/mL CXCL1","t":9,"y":37.6,"e":38.6},{"s":"100ng/mL CXCL1","t":10,"y":36.2,"e":37.2},{"s":"100ng/mL CXCL1","t":11,"y":34.3,"e":35.3},{"s":"100ng/mL CXCL1","t":12,"y":32.6,"e":33.6},{"s":"100ng/mL CXCL1","t":13,"y":29.6,"e":30.6},{"s":"100ng/mL CXCL1","t":14,"y":29.2,"e":30.2},{"s":"100ng/mL CXCL1","t":15,"y":28.1,"e":29.1},
{"s":"+ 0.1nM AZ10397767","t":0,"y":100,"e":100},{"s":"+ 0.1nM AZ10397767","t":1,"y":71.9,"e":75},{"s":"+ 0.1nM AZ10397767","t":2,"y":60.5,"e":64},{"s":"+ 0.1nM AZ10397767","t":3,"y":54.6,"e":58},{"s":"+ 0.1nM AZ10397767","t":4,"y":51.1,"e":54},{"s":"+ 0.1nM AZ10397767","t":5,"y":48,"e":51},{"s":"+ 0.1nM AZ10397767","t":6,"y":45.6,"e":48.5},{"s":"+ 0.1nM AZ10397767","t":7,"y":43.2,"e":46},{"s":"+ 0.1nM AZ10397767","t":8,"y":42.1,"e":45},{"s":"+ 0.1nM AZ10397767","t":9,"y":41.4,"e":44.5},{"s":"+ 0.1nM AZ10397767","t":10,"y":40.6,"e":43.5},{"s":"+ 0.1nM AZ10397767","t":11,"y":38.7,"e":41.5},{"s":"+ 0.1nM AZ10397767","t":12,"y":36.2,"e":39},{"s":"+ 0.1nM AZ10397767","t":13,"y":35.9,"e":38.5},{"s":"+ 0.1nM AZ10397767","t":14,"y":35.7,"e":38.5},{"s":"+ 0.1nM AZ10397767","t":15,"y":35.1,"e":38},
{"s":"+ 0.3nM AZ10397767","t":0,"y":100,"e":100},{"s":"+ 0.3nM AZ10397767","t":1,"y":73.2,"e":79.8},{"s":"+ 0.3nM AZ10397767","t":2,"y":65.7,"e":69.3},{"s":"+ 0.3nM AZ10397767","t":3,"y":57.9,"e":65.2},{"s":"+ 0.3nM AZ10397767","t":4,"y":54.4,"e":57.9},{"s":"+ 0.3nM AZ10397767","t":5,"y":50.9,"e":57.5},{"s":"+ 0.3nM AZ10397767","t":6,"y":49.8,"e":54.7},{"s":"+ 0.3nM AZ10397767","t":7,"y":48.3,"e":52.8},{"s":"+ 0.3nM AZ10397767","t":8,"y":46.9,"e":52.2},{"s":"+ 0.3nM AZ10397767","t":9,"y":45.4,"e":52},{"s":"+ 0.3nM AZ10397767","t":10,"y":44.7,"e":49.8},{"s":"+ 0.3nM AZ10397767","t":11,"y":43.4,"e":49.2},{"s":"+ 0.3nM AZ10397767","t":12,"y":42.1,"e":48},{"s":"+ 0.3nM AZ10397767","t":13,"y":42.1,"e":47.5},{"s":"+ 0.3nM AZ10397767","t":14,"y":42.1,"e":47.8},{"s":"+ 0.3nM AZ10397767","t":15,"y":42.1,"e":48.2},
{"s":"+ 1nM AZ10397767","t":0,"y":100,"e":100},{"s":"+ 1nM AZ10397767","t":1,"y":72.6,"e":75},{"s":"+ 1nM AZ10397767","t":2,"y":61.6,"e":64},{"s":"+ 1nM AZ10397767","t":3,"y":55.5,"e":58},{"s":"+ 1nM AZ10397767","t":4,"y":51.1,"e":53.5},{"s":"+ 1nM AZ10397767","t":5,"y":48,"e":50.5},{"s":"+ 1nM AZ10397767","t":6,"y":46.1,"e":48.5},{"s":"+ 1nM AZ10397767","t":7,"y":43.9,"e":46.5},{"s":"+ 1nM AZ10397767","t":8,"y":42.1,"e":44.5},{"s":"+ 1nM AZ10397767","t":9,"y":40.6,"e":43},{"s":"+ 1nM AZ10397767","t":10,"y":40.1,"e":42.5},{"s":"+ 1nM AZ10397767","t":11,"y":38.7,"e":41},{"s":"+ 1nM AZ10397767","t":12,"y":39.5,"e":42},{"s":"+ 1nM AZ10397767","t":13,"y":38.4,"e":41},{"s":"+ 1nM AZ10397767","t":14,"y":38.4,"e":41},{"s":"+ 1nM AZ10397767","t":15,"y":38.4,"e":41},
{"s":"+ 3nM AZ10397767","t":0,"y":100,"e":100},{"s":"+ 3nM AZ10397767","t":1,"y":71.9,"e":74},{"s":"+ 3nM AZ10397767","t":2,"y":60.8,"e":63},{"s":"+ 3nM AZ10397767","t":3,"y":53.9,"e":56},{"s":"+ 3nM AZ10397767","t":4,"y":51.1,"e":53},{"s":"+ 3nM AZ10397767","t":5,"y":48,"e":50},{"s":"+ 3nM AZ10397767","t":6,"y":45,"e":47},{"s":"+ 3nM AZ10397767","t":7,"y":42.5,"e":44.5},{"s":"+ 3nM AZ10397767","t":8,"y":41.4,"e":43.5},{"s":"+ 3nM AZ10397767","t":9,"y":39.5,"e":41.5},{"s":"+ 3nM AZ10397767","t":10,"y":39,"e":41},{"s":"+ 3nM AZ10397767","t":11,"y":37,"e":39},{"s":"+ 3nM AZ10397767","t":12,"y":35.7,"e":37.7},{"s":"+ 3nM AZ10397767","t":13,"y":34.5,"e":36.5},{"s":"+ 3nM AZ10397767","t":14,"y":33.7,"e":35.7},{"s":"+ 3nM AZ10397767","t":15,"y":33.7,"e":35.7},
{"s":"+ 10nM AZ10397767","t":0,"y":100,"e":100},{"s":"+ 10nM AZ10397767","t":1,"y":74.8,"e":76},{"s":"+ 10nM AZ10397767","t":2,"y":62.1,"e":65},{"s":"+ 10nM AZ10397767","t":3,"y":56.1,"e":60.5},{"s":"+ 10nM AZ10397767","t":4,"y":51.7,"e":53.5},{"s":"+ 10nM AZ10397767","t":5,"y":48.7,"e":51},{"s":"+ 10nM AZ10397767","t":6,"y":48.9,"e":52},{"s":"+ 10nM AZ10397767","t":7,"y":45.4,"e":50.5},{"s":"+ 10nM AZ10397767","t":8,"y":44.5,"e":46.5},{"s":"+ 10nM AZ10397767","t":9,"y":42.5,"e":46.5},{"s":"+ 10nM AZ10397767","t":10,"y":41.7,"e":44},{"s":"+ 10nM AZ10397767","t":11,"y":39.7,"e":42},{"s":"+ 10nM AZ10397767","t":12,"y":39.2,"e":41},{"s":"+ 10nM AZ10397767","t":13,"y":37.9,"e":40},{"s":"+ 10nM AZ10397767","t":14,"y":37.9,"e":40},{"s":"+ 10nM AZ10397767","t":15,"y":36.2,"e":38.5},
{"s":"+ 30nM AZ10397767","t":0,"y":100,"e":100},{"s":"+ 30nM AZ10397767","t":1,"y":71,"e":72.5},{"s":"+ 30nM AZ10397767","t":2,"y":58.5,"e":60},{"s":"+ 30nM AZ10397767","t":3,"y":51.4,"e":53},{"s":"+ 30nM AZ10397767","t":4,"y":48.7,"e":50.2},{"s":"+ 30nM AZ10397767","t":5,"y":43.9,"e":45.4},{"s":"+ 30nM AZ10397767","t":6,"y":44.2,"e":45.7},{"s":"+ 30nM AZ10397767","t":7,"y":41.2,"e":42.7},{"s":"+ 30nM AZ10397767","t":8,"y":41.2,"e":42.7},{"s":"+ 30nM AZ10397767","t":9,"y":42.3,"e":43.8},{"s":"+ 30nM AZ10397767","t":10,"y":41.7,"e":43.2},{"s":"+ 30nM AZ10397767","t":11,"y":40.8,"e":42.3},{"s":"+ 30nM AZ10397767","t":12,"y":35.7,"e":37.2},{"s":"+ 30nM AZ10397767","t":13,"y":34.5,"e":36},{"s":"+ 30nM AZ10397767","t":14,"y":33.7,"e":35.2},{"s":"+ 30nM AZ10397767","t":15,"y":33.2,"e":34.7},
{"s":"+ 100nM AZ10397767","t":0,"y":100,"e":100},{"s":"+ 100nM AZ10397767","t":1,"y":72.1,"e":75.5},{"s":"+ 100nM AZ10397767","t":2,"y":61.6,"e":67},{"s":"+ 100nM AZ10397767","t":3,"y":55,"e":61},{"s":"+ 100nM AZ10397767","t":4,"y":51.7,"e":57},{"s":"+ 100nM AZ10397767","t":5,"y":48.3,"e":54},{"s":"+ 100nM AZ10397767","t":6,"y":45.6,"e":52},{"s":"+ 100nM AZ10397767","t":7,"y":44.7,"e":50.5},{"s":"+ 100nM AZ10397767","t":8,"y":43.9,"e":48},{"s":"+ 100nM AZ10397767","t":9,"y":42.8,"e":46.5},{"s":"+ 100nM AZ10397767","t":10,"y":42.1,"e":45.5},{"s":"+ 100nM AZ10397767","t":11,"y":40.8,"e":43.5},{"s":"+ 100nM AZ10397767","t":12,"y":40.1,"e":42.5},{"s":"+ 100nM AZ10397767","t":13,"y":39.5,"e":42},{"s":"+ 100nM AZ10397767","t":14,"y":38.7,"e":42.5},{"s":"+ 100nM AZ10397767","t":15,"y":40.1,"e":43}],
"dI":[{"c":"0","v":0,"e":1.6},{"c":"10nM","v":56.4,"e":60.3},{"c":"30nM","v":52.1,"e":53.5}]
},
"vconcat":[
{"hconcat":[
{"width":494.4,"height":366,
"title":{"text":"A","anchor":"start","frame":"group","dx":-169.6,"offset":-28.6,"fontSize":33},
"data":{"name":"dA"},
"encoding":{
"x":{"field":"t","type":"quantitative","scale":{"domain":[0,6],"nice":false,"zero":false},"axis":{"values":[0,1,2,3,4,5,6],"format":"d","title":"Post-seeding duration (hours)","titleFontSize":24,"titlePadding":6,"labelFontSize":24,"tickSize":7,"labelPadding":9}},
"y":{"field":"y","type":"quantitative","scale":{"domain":[0,130],"nice":false},"axis":{"values":[0,25,50,75,100,125],"title":["% of total neutrophil-occupied area","on top (normalized to initial value)"],"titleFont":"DejaVu Sans","titleFontSize":22,"titleLineHeight":31,"titlePadding":18.1,"labelFontSize":24,"tickSize":6,"labelPadding":2}},
"color":{"field":"s","type":"nominal","scale":{"domain":["Vehicle","1nM","3nM","10nM","30nM","100nM","300nM","1µM","zz"],"range":["#000000","#6e6e6e","#ababab","#fbe1df","#f2a29c","#e8401c","#bb44dd","#a3281a","#000000"]},"legend":null}},
"layer":[
{"transform":[{"filter":"datum.t > 0"}],"mark":{"type":"rule","strokeWidth":1.5},"encoding":{"y2":{"field":"e"}}},
{"transform":[{"filter":"datum.t > 0"}],"mark":{"type":"tick","orient":"horizontal","size":10,"thickness":1.5,"opacity":1},"encoding":{"y":{"field":"e","type":"quantitative","scale":{"domain":[0,130],"nice":false},"axis":{"values":[0,25,50,75,100,125],"title":["% of total neutrophil-occupied area","on top (normalized to initial value)"],"titleFont":"DejaVu Sans","titleFontSize":22,"titleLineHeight":31,"titlePadding":18.1,"labelFontSize":24,"tickSize":6,"labelPadding":2}}}},
{"mark":{"type":"line","strokeWidth":2},"encoding":{"stroke":{"field":"s","type":"nominal","scale":{"domain":["Vehicle","1nM","3nM","10nM","30nM","100nM","300nM","1µM"],"range":["#000000","#6e6e6e","#ababab","#fbe1df","#f2a29c","#e8401c","#bb44dd","#a3281a"]},
"legend":{"orient":"none","legendX":554.2,"legendY":12,"padding":0,"title":null,"symbolType":"M-3.8,0L3.8,0M0,-1.2L1.2,0L0,1.2L-1.2,0ZM0,-0.6L0.6,0L0,0.6L-0.6,0Z","symbolSize":49,"symbolStrokeWidth":2,"labelFontSize":20,"labelOffset":20.2,"rowPadding":13.3,"labelLimit":500}}}},
{"mark":{"type":"point","shape":"diamond","filled":true,"size":64,"opacity":1}}]},
{"width":495,"height":363,
"title":{"text":"B","anchor":"start","frame":"group","dx":-166,"offset":-33.5,"fontSize":33},
"data":{"name":"dB"},
"encoding":{
"x":{"field":"t","type":"quantitative","scale":{"domain":[0,6],"nice":false,"zero":false},"axis":{"values":[0,1,2,3,4,5,6],"format":"d","title":"Post-seeding duration (hours)","titleFontSize":25.5,"titlePadding":10,"labelFontSize":24,"tickSize":7,"labelPadding":9.5}},
"y":{"field":"y","type":"quantitative","scale":{"domain":[0,134.25],"nice":false},"axis":{"values":[0,25,50,75,100,125],"domainDash":[351,2000],"title":["% of total neutrophil-occupied area","on top (normalized to initial value)"],"titleFont":"DejaVu Sans","titleFontSize":22,"titleLineHeight":34,"titlePadding":10.2,"labelFontSize":24,"tickSize":6,"labelPadding":2}},
"color":{"field":"s","type":"nominal","scale":{"domain":["300nM fMLP","+ 0.03µM U73122","+ 0.1µM U73122","+ 0.3µM U73122","+ 1µM U73122","+ 3µM U73122","+ 10µM U73122","+ 30µM U73122","zz"],"range":["#8a3cf5","#8080f8","#a6d4fa","#5a9cf0","#1f3cf8","#3c5a88","#4a2080","#1a2a8a","#000000"]},"legend":null}},
"layer":[
{"transform":[{"filter":"datum.t > 0"}],"mark":{"type":"rule","strokeWidth":1.5},"encoding":{"y2":{"field":"e"}}},
{"transform":[{"filter":"datum.t > 0"}],"mark":{"type":"tick","orient":"horizontal","size":10,"thickness":1.5,"opacity":1},"encoding":{"y":{"field":"e","type":"quantitative","scale":{"domain":[0,134.25],"nice":false},"axis":{"values":[0,25,50,75,100,125],"domainDash":[351,2000],"title":["% of total neutrophil-occupied area","on top (normalized to initial value)"],"titleFont":"DejaVu Sans","titleFontSize":22,"titleLineHeight":34,"titlePadding":10.2,"labelFontSize":24,"tickSize":6,"labelPadding":2}}}},
{"mark":{"type":"line","strokeWidth":2},"encoding":{"stroke":{"field":"s","type":"nominal","scale":{"domain":["300nM fMLP","+ 0.03µM U73122","+ 0.1µM U73122","+ 0.3µM U73122","+ 1µM U73122","+ 3µM U73122","+ 10µM U73122","+ 30µM U73122"],"range":["#8a3cf5","#8080f8","#a6d4fa","#5a9cf0","#1f3cf8","#3c5a88","#4a2080","#1a2a8a"]},
"legend":{"orient":"none","legendX":543.9,"legendY":-12.7,"padding":1.4,"title":null,"symbolType":"M-3.8,0L3.8,0M0,-1.2L1.2,0L0,1.2L-1.2,0ZM0,-0.6L0.6,0L0,0.6L-0.6,0Z","symbolSize":49,"symbolStrokeWidth":2,"labelFontSize":20,"labelOffset":22.2,"rowPadding":15,"labelLimit":500}}}},
{"mark":{"type":"point","shape":"diamond","filled":true,"size":64,"opacity":1}}]},
{"width":437,"height":355,
"title":{"text":"C","anchor":"start","frame":"group","dx":-171,"offset":-33.7,"fontSize":33},
"data":{"name":"dC"},
"encoding":{
"x":{"field":"c","type":"nominal","sort":null,"scale":{"paddingInner":0.336,"paddingOuter":0.168},"axis":{"title":"[U73122]","titleFontSize":28,"titlePadding":16.7,"labelFontSize":26,"tickSize":10,"labelPadding":12.3,"labelAngle":0}},
"y":{"field":"v","type":"quantitative","scale":{"domain":[0,100],"nice":false},"axis":{"values":[0,20,40,60,80,100],"title":["% of neutrophil","migration inhibition"],"titleFontSize":27,"titleLineHeight":40,"titlePadding":38.4,"labelFontSize":26,"tickSize":8,"labelPadding":2}}},
"layer":[
{"mark":{"type":"bar","color":"#606060"}},
{"mark":{"type":"rule","color":"#555555","strokeWidth":2},"encoding":{"y2":{"field":"e"}}},
{"mark":{"type":"tick","orient":"horizontal","size":47,"thickness":2,"color":"#555555","opacity":1},"encoding":{"y":{"field":"e","type":"quantitative","scale":{"domain":[0,100],"nice":false},"axis":{"values":[0,20,40,60,80,100],"title":["% of neutrophil","migration inhibition"],"titleFontSize":27,"titleLineHeight":40,"titlePadding":38.4,"labelFontSize":26,"tickSize":8,"labelPadding":2}}}}]}
],
"spacing":64,"align":"none",
"title":{"text":"fMLP-induced chemotaxis","anchor":"middle","frame":"bounds","dx":34,"offset":35.7,"fontSize":40,"color":"#cf2a3e"},
"resolve":{"scale":{"color":"independent","stroke":"independent"},"legend":{"color":"independent","stroke":"independent"}}},
{"hconcat":[
{"width":473.4,"height":393,
"title":{"text":"D","anchor":"start","frame":"group","dx":-168.4,"offset":-27.3,"fontSize":33},
"data":{"name":"dD"},
"encoding":{
"x":{"field":"t","type":"quantitative","scale":{"domain":[0,6],"nice":false,"zero":false},"axis":{"values":[0,1,2,3,4,5,6],"format":"d","title":"Post-seeding duration (hours)","titleFontSize":24,"titlePadding":12.7,"labelFontSize":24,"tickSize":7,"labelPadding":9.2}},
"y":{"field":"y","type":"quantitative","scale":{"domain":[0,137.4],"nice":false},"axis":{"values":[0,25,50,75,100,125],"domainDash":[371,2000],"title":["% of total neutrophil-occupied area","on top (normalized to initial value)"],"titleFont":"DejaVu Sans","titleFontSize":22.5,"titleLineHeight":30.5,"titlePadding":15.1,"labelFontSize":24,"tickSize":6,"labelPadding":2}},
"color":{"field":"s","type":"nominal","scale":{"domain":["Vehicle","0.3ng/mL","1ng/mL","3ng/mL","10ng/mL","30ng/mL","100ng/mL","300ng/mL","zz"],"range":["#000000","#6e6e6e","#a6a6a6","#fbe1df","#f2a29c","#e8401c","#b43cdc","#a3281a","#000000"]},"legend":null}},
"layer":[
{"transform":[{"filter":"datum.t > 0"}],"mark":{"type":"rule","strokeWidth":1.5},"encoding":{"y2":{"field":"e"}}},
{"transform":[{"filter":"datum.t > 0"}],"mark":{"type":"tick","orient":"horizontal","size":10,"thickness":1.5,"opacity":1},"encoding":{"y":{"field":"e","type":"quantitative","scale":{"domain":[0,137.4],"nice":false},"axis":{"values":[0,25,50,75,100,125],"domainDash":[371,2000],"title":["% of total neutrophil-occupied area","on top (normalized to initial value)"],"titleFont":"DejaVu Sans","titleFontSize":22.5,"titleLineHeight":30.5,"titlePadding":15.1,"labelFontSize":24,"tickSize":6,"labelPadding":2}}}},
{"mark":{"type":"line","strokeWidth":2},"encoding":{"stroke":{"field":"s","type":"nominal","scale":{"domain":["Vehicle","0.3ng/mL","1ng/mL","3ng/mL","10ng/mL","30ng/mL","100ng/mL","300ng/mL"],"range":["#000000","#6e6e6e","#a6a6a6","#fbe1df","#f2a29c","#e8401c","#b43cdc","#a3281a"]},
"legend":{"orient":"none","legendX":525.9,"legendY":-5.8,"padding":14.1,"title":null,"symbolType":"M-3.8,0L3.8,0M0,-1.2L1.2,0L0,1.2L-1.2,0ZM0,-0.6L0.6,0L0,0.6L-0.6,0Z","symbolSize":49,"symbolStrokeWidth":2,"labelFontSize":20,"labelOffset":19.3,"rowPadding":14,"labelLimit":500}}}},
{"mark":{"type":"point","shape":"diamond","filled":true,"size":64,"opacity":1}}]},
{"width":447,"height":394,
"title":{"text":"E","anchor":"start","frame":"group","dx":-186.5,"offset":-33.7,"fontSize":33},
"data":{"name":"dE"},
"encoding":{
"x":{"field":"t","type":"quantitative","scale":{"domain":[0,6],"nice":false,"zero":false},"axis":{"values":[0,1,2,3,4,5,6],"format":"d","title":"Post-seeding duration (hours)","titleFontSize":26,"titlePadding":9,"labelFontSize":24,"tickSize":7,"labelPadding":9.9}},
"y":{"field":"y","type":"quantitative","scale":{"domain":[0,129.2],"nice":false},"axis":{"values":[0,25,50,75,100,125],"title":["% of total neutrophil-occupied area","on top (normalized to initial value)"],"titleFont":"DejaVu Sans","titleFontSize":23,"titleLineHeight":34.6,"titlePadding":18.2,"labelFontSize":24,"tickSize":6,"labelPadding":2}},
"color":{"field":"s","type":"nominal","scale":{"domain":["100ng/mL IL8","+ 0.1nM AZ10397767","+ 0.3nM AZ10397767","+ 1nM AZ10397767","+ 3nM AZ10397767","+ 10nM AZ10397767","+ 30nM AZ10397767","+ 100nM AZ10397767","zz"],"range":["#e050e8","#8080f8","#a6d4fa","#5a9cf0","#1f3cf8","#3c5a88","#4a2080","#1a2a8a","#000000"]},"legend":null}},
"layer":[
{"transform":[{"filter":"datum.t > 0"}],"mark":{"type":"rule","strokeWidth":1.5},"encoding":{"y2":{"field":"e"}}},
{"transform":[{"filter":"datum.t > 0"}],"mark":{"type":"tick","orient":"horizontal","size":10,"thickness":1.5,"opacity":1},"encoding":{"y":{"field":"e","type":"quantitative","scale":{"domain":[0,129.2],"nice":false},"axis":{"values":[0,25,50,75,100,125],"title":["% of total neutrophil-occupied area","on top (normalized to initial value)"],"titleFont":"DejaVu Sans","titleFontSize":23,"titleLineHeight":34.6,"titlePadding":18.2,"labelFontSize":24,"tickSize":6,"labelPadding":2}}}},
{"mark":{"type":"line","strokeWidth":2},"encoding":{"stroke":{"field":"s","type":"nominal","scale":{"domain":["100ng/mL IL8","+ 0.1nM AZ10397767","+ 0.3nM AZ10397767","+ 1nM AZ10397767","+ 3nM AZ10397767","+ 10nM AZ10397767","+ 30nM AZ10397767","+ 100nM AZ10397767"],"range":["#e050e8","#8080f8","#a6d4fa","#5a9cf0","#1f3cf8","#3c5a88","#4a2080","#1a2a8a"]},
"legend":{"orient":"none","legendX":508.5,"legendY":10.3,"padding":0,"title":null,"symbolType":"M-3.8,0L3.8,0M0,-1.2L1.2,0L0,1.2L-1.2,0ZM0,-0.6L0.6,0L0,0.6L-0.6,0Z","symbolSize":49,"symbolStrokeWidth":2,"labelFontSize":20,"labelOffset":26.2,"rowPadding":15.7,"labelLimit":500}}}},
{"mark":{"type":"point","shape":"diamond","filled":true,"size":64,"opacity":1}}]},
{"width":415,"height":380,
"title":{"text":"F","anchor":"start","frame":"group","dx":-180,"offset":-25.8,"fontSize":33},
"data":{"name":"dF"},
"encoding":{
"x":{"field":"c","type":"nominal","sort":null,"scale":{"paddingInner":0.336,"paddingOuter":0.168},"axis":{"title":"[AZ10397767]","titleFontSize":27,"titlePadding":13,"labelFontSize":24,"tickSize":10,"labelPadding":12.5,"labelAngle":0}},
"y":{"field":"v","type":"quantitative","scale":{"domain":[0,112.8],"nice":false},"axis":{"values":[0,20,40,60,80,100],"domainDash":[337,2000],"title":["% of neutrophil","migration inhibition"],"titleY":208.5,"titleFontSize":26,"titleLineHeight":40,"titlePadding":32.4,"labelFontSize":25,"tickSize":8,"labelPadding":2}}},
"layer":[
{"mark":{"type":"bar","color":"#606060"}},
{"mark":{"type":"rule","color":"#555555","strokeWidth":2},"encoding":{"y2":{"field":"e"}}},
{"mark":{"type":"tick","orient":"horizontal","size":46,"thickness":2,"color":"#555555","opacity":1},"encoding":{"y":{"field":"e","type":"quantitative","scale":{"domain":[0,112.8],"nice":false},"axis":{"values":[0,20,40,60,80,100],"domainDash":[337,2000],"title":["% of neutrophil","migration inhibition"],"titleY":208.5,"titleFontSize":26,"titleLineHeight":40,"titlePadding":32.4,"labelFontSize":25,"tickSize":8,"labelPadding":2}}}}]}
],
"spacing":39.6,"align":"none",
"title":{"text":"IL8-induced chemotaxis","anchor":"middle","frame":"bounds","dx":40,"offset":29,"fontSize":40,"color":"#cf2a3e"},
"resolve":{"scale":{"color":"independent","stroke":"independent"},"legend":{"color":"independent","stroke":"independent"}}},
{"hconcat":[
{"width":509.4,"height":385.3,
"title":{"text":"G","anchor":"start","frame":"group","dx":-166.7,"offset":-32.4,"fontSize":33},
"data":{"name":"dG"},
"encoding":{
"x":{"field":"t","type":"quantitative","scale":{"domain":[0,15],"nice":false,"zero":false},"axis":{"values":[0,1,2,3,4,5,6,7,8,9,10,11,12,13,14,15],"format":"d","title":"Post-seeding duration (hours)","titleFontSize":26.5,"titlePadding":20.8,"labelFontSize":24,"tickSize":7,"labelPadding":10.2}},
"y":{"field":"y","type":"quantitative","scale":{"domain":[0,131.2],"nice":false},"axis":{"values":[0,25,50,75,100,125],"title":["% of total neutrophil-occupied area","on top (normalized to initial value)"],"titleFont":"DejaVu Sans","titleFontSize":23.5,"titleLineHeight":33.4,"titlePadding":16,"labelFontSize":24,"tickSize":6,"labelPadding":2}},
"color":{"field":"s","type":"nominal","scale":{"domain":["Vehicle","0.3ng/mL","1ng/mL","3ng/mL","10ng/mL","30ng/mL","100ng/mL","300ng/mL","zz"],"range":["#000000","#707070","#b0b0b8","#fde4e4","#f09a98","#e02a00","#c02878","#901800","#000000"]},"legend":null}},
"layer":[
{"transform":[{"filter":"datum.t > 0"}],"mark":{"type":"rule","strokeWidth":1.5},"encoding":{"y2":{"field":"e"}}},
{"transform":[{"filter":"datum.t > 0"}],"mark":{"type":"tick","orient":"horizontal","size":9,"thickness":1.5,"opacity":1},"encoding":{"y":{"field":"e","type":"quantitative","scale":{"domain":[0,131.2],"nice":false},"axis":{"values":[0,25,50,75,100,125],"title":["% of total neutrophil-occupied area","on top (normalized to initial value)"],"titleFont":"DejaVu Sans","titleFontSize":23.5,"titleLineHeight":33.4,"titlePadding":16,"labelFontSize":24,"tickSize":6,"labelPadding":2}}}},
{"mark":{"type":"line","strokeWidth":2},"encoding":{"stroke":{"field":"s","type":"nominal","scale":{"domain":["Vehicle","0.3ng/mL","1ng/mL","3ng/mL","10ng/mL","30ng/mL","100ng/mL","300ng/mL"],"range":["#000000","#707070","#b0b0b8","#fde4e4","#f09a98","#e02a00","#c02878","#901800"]},
"legend":{"orient":"none","legendX":560.8,"legendY":-2.5,"padding":0,"title":null,"symbolType":"M-3.8,0L3.8,0M-1.1,0A1.1,1.1,0,1,0,1.1,0A1.1,1.1,0,1,0,-1.1,0M-0.55,0A0.55,0.55,0,1,0,0.55,0A0.55,0.55,0,1,0,-0.55,0","symbolSize":49,"symbolStrokeWidth":2,"labelFontSize":21,"labelOffset":25.1,"rowPadding":13.9,"labelLimit":500}}}},
{"mark":{"type":"point","shape":"circle","filled":true,"size":50,"opacity":1}}]},
{"width":509,"height":392,
"title":{"text":"H","anchor":"start","frame":"group","dx":-183.6,"offset":-30.7,"fontSize":33},
"data":{"name":"dH"},
"encoding":{
"x":{"field":"t","type":"quantitative","scale":{"domain":[0,15],"nice":false,"zero":false},"axis":{"values":[0,1,2,3,4,5,6,7,8,9,10,11,12,13,14,15],"format":"d","title":"Post-seeding duration (hours)","titleFontSize":26,"titlePadding":8.5,"labelFontSize":24,"tickSize":7,"labelPadding":10.2}},
"y":{"field":"y","type":"quantitative","scale":{"domain":[0,129.7],"nice":false},"axis":{"values":[0,25,50,75,100,125],"title":["% of total neutrophil-occupied area","on top (normalized to initial value)"],"titleFont":"DejaVu Sans","titleFontSize":23.5,"titleLineHeight":35,"titlePadding":16,"labelFontSize":24,"tickSize":6,"labelPadding":2}},
"color":{"field":"s","type":"nominal","scale":{"domain":["100ng/mL CXCL1","+ 0.1nM AZ10397767","+ 0.3nM AZ10397767","+ 1nM AZ10397767","+ 3nM AZ10397767","+ 10nM AZ10397767","+ 30nM AZ10397767","+ 100nM AZ10397767","zz"],"range":["#e050e8","#8080f8","#a6d4fa","#5a9cf0","#1f3cf8","#3c5a88","#4a2080","#1a2a8a","#000000"]},"legend":null}},
"layer":[
{"transform":[{"filter":"datum.t > 0"}],"mark":{"type":"rule","strokeWidth":1.5},"encoding":{"y2":{"field":"e"}}},
{"transform":[{"filter":"datum.t > 0"}],"mark":{"type":"tick","orient":"horizontal","size":9,"thickness":1.5,"opacity":1},"encoding":{"y":{"field":"e","type":"quantitative","scale":{"domain":[0,129.7],"nice":false},"axis":{"values":[0,25,50,75,100,125],"title":["% of total neutrophil-occupied area","on top (normalized to initial value)"],"titleFont":"DejaVu Sans","titleFontSize":23.5,"titleLineHeight":35,"titlePadding":16,"labelFontSize":24,"tickSize":6,"labelPadding":2}}}},
{"mark":{"type":"line","strokeWidth":2},"encoding":{"stroke":{"field":"s","type":"nominal","scale":{"domain":["100ng/mL CXCL1","+ 0.1nM AZ10397767","+ 0.3nM AZ10397767","+ 1nM AZ10397767","+ 3nM AZ10397767","+ 10nM AZ10397767","+ 30nM AZ10397767","+ 100nM AZ10397767"],"range":["#e050e8","#8080f8","#a6d4fa","#5a9cf0","#1f3cf8","#3c5a88","#4a2080","#1a2a8a"]},
"legend":{"orient":"none","legendX":553.2,"legendY":9.5,"padding":0,"title":null,"symbolType":"M-3.8,0L3.8,0M0,-1.2L1.2,0L0,1.2L-1.2,0ZM0,-0.6L0.6,0L0,0.6L-0.6,0Z","symbolSize":49,"symbolStrokeWidth":2,"labelFontSize":21,"labelOffset":21.6,"rowPadding":13.8,"labelLimit":500}}}},
{"mark":{"type":"point","shape":"diamond","filled":true,"size":64,"opacity":1}}]},
{"width":425,"height":380,
"title":{"text":" ","anchor":"start","frame":"group","dx":-150.5,"offset":-44,"fontSize":33},
"data":{"name":"dI"},
"encoding":{
"x":{"field":"c","type":"nominal","sort":null,"scale":{"paddingInner":0.336,"paddingOuter":0.168},"axis":{"title":"[AZ10397767]","titleFontSize":27.5,"titlePadding":20.3,"labelFontSize":24,"tickSize":10,"labelPadding":12.5,"labelAngle":0}},
"y":{"field":"v","type":"quantitative","scale":{"domain":[0,109.9],"nice":false},"axis":{"values":[0,20,40,60,80,100],"domainDash":[346,2000],"title":["% of neutrophil","migration inhibition"],"titleY":203.5,"titleFontSize":26.5,"titleLineHeight":42,"titlePadding":22.8,"labelFontSize":25,"tickSize":8,"labelPadding":2}}},
"layer":[
{"mark":{"type":"bar","color":"#606060"}},
{"mark":{"type":"rule","color":"#555555","strokeWidth":2},"encoding":{"y2":{"field":"e"}}},
{"mark":{"type":"tick","orient":"horizontal","size":46,"thickness":2,"color":"#555555","opacity":1},"encoding":{"y":{"field":"e","type":"quantitative","scale":{"domain":[0,109.9],"nice":false},"axis":{"values":[0,20,40,60,80,100],"domainDash":[346,2000],"title":["% of neutrophil","migration inhibition"],"titleY":203.5,"titleFontSize":26.5,"titleLineHeight":42,"titlePadding":22.8,"labelFontSize":25,"tickSize":8,"labelPadding":2}}}}]}
],
"spacing":21.2,"align":"none",
"title":{"text":"CXCL1-induced chemotaxis","anchor":"middle","frame":"bounds","dx":32,"offset":34,"fontSize":40,"color":"#cf2a3e"},
"resolve":{"scale":{"color":"independent","stroke":"independent"},"legend":{"color":"independent","stroke":"independent"}}}
],
"spacing":112.5,"align":"none",
"resolve":{"scale":{"color":"independent","stroke":"independent"},"legend":{"color":"independent","stroke":"independent"}}
}
